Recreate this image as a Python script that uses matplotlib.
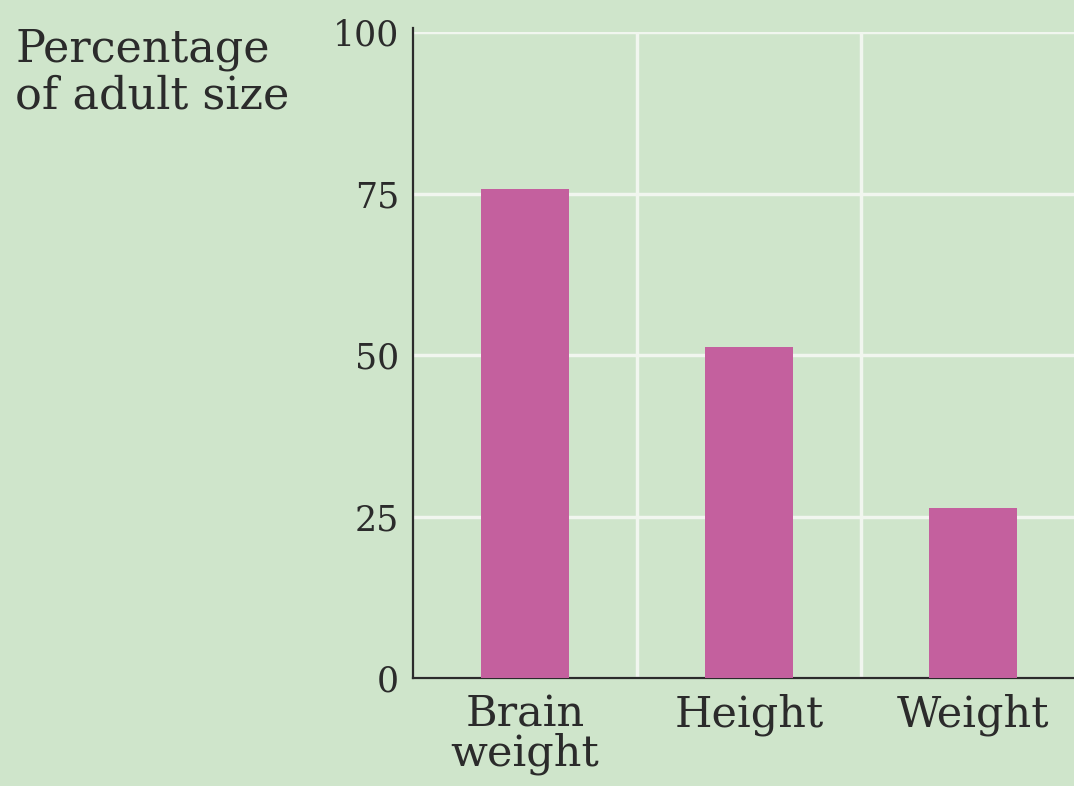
import matplotlib
matplotlib.use("Agg")
import matplotlib.pyplot as plt

# data
categories = ["Brain\nweight", "Height", "Weight"]
percent_adult = [75.7, 51.2, 26.3]
y_ticks = [0, 25, 50, 75, 100]

BG = "#cfe5cb"
BAR = "#c4609e"
INK = "#2b2b2b"
GRID = "#f1f6ef"

plt.rcParams["font.family"] = ["DejaVu Serif"]

fig = plt.figure(figsize=(10.74, 7.86), dpi=100, facecolor=BG)
ax = fig.add_axes([0.3845, 0.1375, 0.6155, 0.8215])
ax.set_facecolor(BG)

x = [0.5 + i for i in range(len(categories))]
ax.bar(x, percent_adult, width=0.39, color=BAR, zorder=3)

ax.set_xlim(0, 2.951)
ax.set_ylim(0, 100)
ax.set_xticks([1, 2])
ax.set_xticklabels([])
ax.set_yticks(y_ticks)
ax.set_yticklabels([str(t) for t in y_ticks], fontsize=25, color=INK)
ax.tick_params(axis="y", length=0, pad=10)
ax.tick_params(axis="x", length=0)
ax.grid(True, color=GRID, linewidth=2.5, zorder=1)
ax.set_axisbelow(True)

for xi, lab in zip(x, categories):
    ax.text(xi, -2.4, lab, ha="center", va="top", fontsize=31,
            color=INK, linespacing=0.92, transform=ax.transData,
            clip_on=False)

for s in ["top", "right"]:
    ax.spines[s].set_visible(False)
for s in ["left", "bottom"]:
    ax.spines[s].set_color(INK)
    ax.spines[s].set_linewidth(1.6)
ax.spines["left"].set_bounds(0, 100.6)

fig.text(15 / 1074, 1 - 28 / 786, "Percentage\nof adult size",
         ha="left", va="top", fontsize=32, color=INK, linespacing=1.08)

fig.savefig("out.png", dpi=100, facecolor=BG)
